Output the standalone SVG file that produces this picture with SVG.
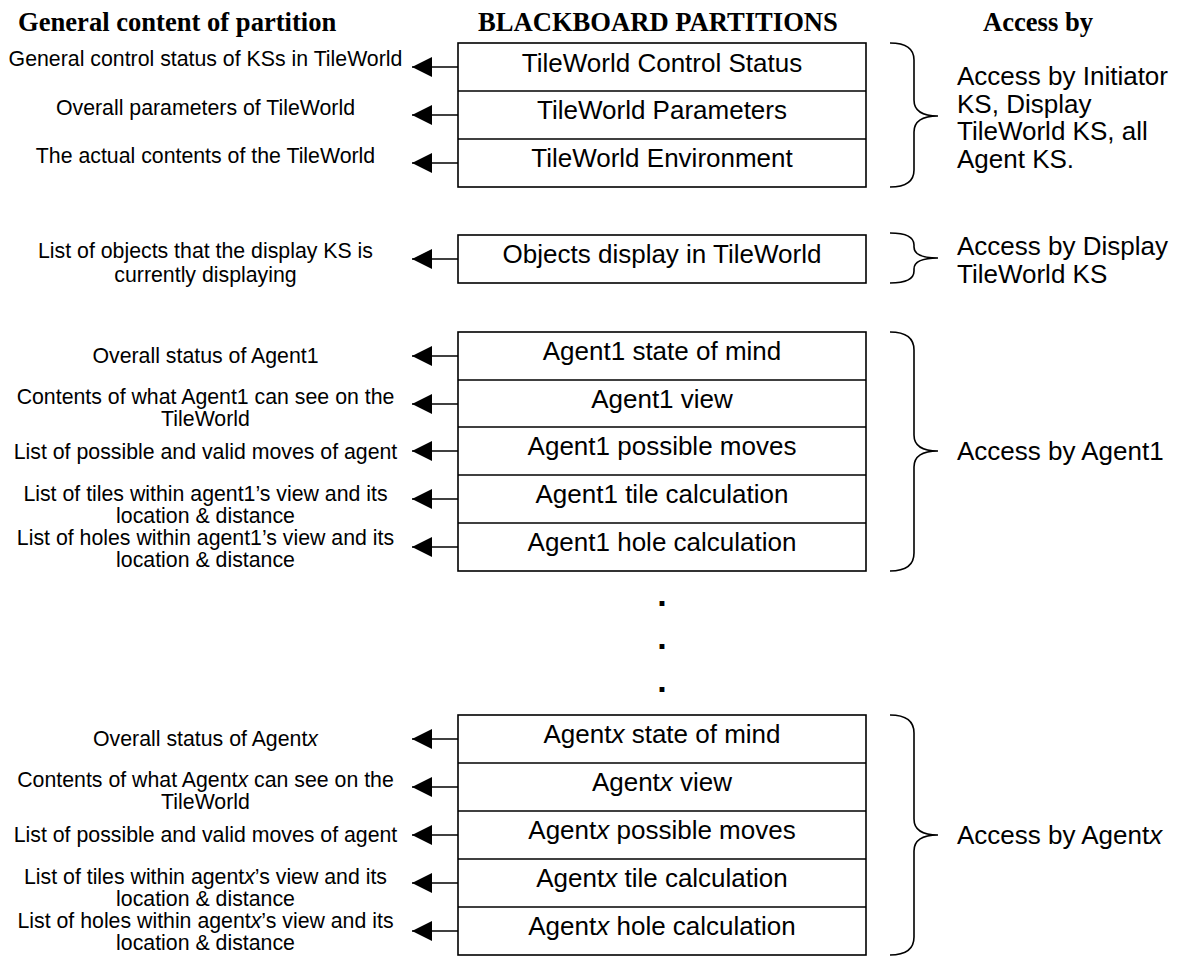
<svg xmlns="http://www.w3.org/2000/svg" width="1179" height="957" viewBox="0 0 1179 957">
<defs>
<marker id="ah" viewBox="0 0 20 20" refX="20" refY="10" markerWidth="20" markerHeight="20" markerUnits="userSpaceOnUse" orient="auto">
<path d="M0,0 L20,10 L0,20 z" fill="#000"/>
</marker>
<style>
.hd{font-family:"Liberation Serif","Times New Roman",serif;font-weight:bold;font-size:26.6px;fill:#000}
.lt{font-family:"Liberation Sans",Arial,sans-serif;font-size:21.3px;fill:#000;text-anchor:middle}
.bt{font-family:"Liberation Sans",Arial,sans-serif;font-size:26px;fill:#000;text-anchor:middle}
.rt{font-family:"Liberation Sans",Arial,sans-serif;font-size:26px;fill:#000}
.box{fill:#fff;stroke:#000;stroke-width:1.6}
.dv{stroke:#000;stroke-width:1.6}
.br{fill:none;stroke:#000;stroke-width:1.6}
.cn{stroke:#000;stroke-width:1.6;marker-end:url(#ah)}
.dot{font-family:"Liberation Sans",Arial,sans-serif;font-weight:bold;font-size:34px;fill:#000;text-anchor:middle}
</style>
</defs>
<rect width="1179" height="957" fill="#fff"/>

<g id="headers">
<text class="hd" x="18" y="31">General content of partition</text>
<text class="hd" x="478" y="31">BLACKBOARD PARTITIONS</text>
<text class="hd" x="983" y="31">Access by</text>
</g>

<g id="tileworld-partitions">
<rect class="box" x="458" y="43" width="408" height="144"/>
<line class="dv" x1="458" y1="91" x2="866" y2="91"/>
<line class="dv" x1="458" y1="139" x2="866" y2="139"/>
<text class="bt" x="662" y="71.5">TileWorld Control Status</text>
<text class="bt" x="662" y="119">TileWorld Parameters</text>
<text class="bt" x="662" y="167">TileWorld Environment</text>
</g>

<g id="objects-partition">
<rect class="box" x="458" y="235" width="408" height="48"/>
<text class="bt" x="662" y="263">Objects display in TileWorld</text>
</g>

<g id="agent1-partitions">
<rect class="box" x="458" y="332" width="408" height="239"/>
<line class="dv" x1="458" y1="380" x2="866" y2="380"/>
<line class="dv" x1="458" y1="427" x2="866" y2="427"/>
<line class="dv" x1="458" y1="475" x2="866" y2="475"/>
<line class="dv" x1="458" y1="523" x2="866" y2="523"/>
<text class="bt" x="662" y="360">Agent1 state of mind</text>
<text class="bt" x="662" y="408">Agent1 view</text>
<text class="bt" x="662" y="455">Agent1 possible moves</text>
<text class="bt" x="662" y="503">Agent1 tile calculation</text>
<text class="bt" x="662" y="551">Agent1 hole calculation</text>
</g>

<g id="ellipsis">
<text class="dot" x="662" y="606">.</text>
<text class="dot" x="662" y="649">.</text>
<text class="dot" x="662" y="692">.</text>
</g>

<g id="agentx-partitions">
<rect class="box" x="458" y="715" width="408" height="240"/>
<line class="dv" x1="458" y1="763" x2="866" y2="763"/>
<line class="dv" x1="458" y1="811" x2="866" y2="811"/>
<line class="dv" x1="458" y1="859" x2="866" y2="859"/>
<line class="dv" x1="458" y1="907" x2="866" y2="907"/>
<text class="bt" x="662" y="743">Agent<tspan font-style="italic">x</tspan> state of mind</text>
<text class="bt" x="662" y="791">Agent<tspan font-style="italic">x</tspan> view</text>
<text class="bt" x="662" y="839">Agent<tspan font-style="italic">x</tspan> possible moves</text>
<text class="bt" x="662" y="887">Agent<tspan font-style="italic">x</tspan> tile calculation</text>
<text class="bt" x="662" y="935">Agent<tspan font-style="italic">x</tspan> hole calculation</text>
</g>

<g id="content-labels">
<text class="lt" x="205.5" y="66">General control status of KSs in TileWorld</text>
<text class="lt" x="205.5" y="115">Overall parameters of TileWorld</text>
<text class="lt" x="205.5" y="163">The actual contents of the TileWorld</text>
<text class="lt" x="205.5" y="258">List of objects that the display KS is</text>
<text class="lt" x="205.5" y="282">currently displaying</text>
<text class="lt" x="205.5" y="363">Overall status of Agent1</text>
<text class="lt" x="205.5" y="404">Contents of what Agent1 can see on the</text>
<text class="lt" x="205.5" y="426">TileWorld</text>
<text class="lt" x="205.5" y="459">List of possible and valid moves of agent</text>
<text class="lt" x="205.5" y="501">List of tiles within agent1’s view and its</text>
<text class="lt" x="205.5" y="523">location &amp; distance</text>
<text class="lt" x="205.5" y="545">List of holes within agent1’s view and its</text>
<text class="lt" x="205.5" y="567">location &amp; distance</text>
<text class="lt" x="205.5" y="746">Overall status of Agent<tspan font-style="italic">x</tspan></text>
<text class="lt" x="205.5" y="787">Contents of what Agent<tspan font-style="italic">x</tspan> can see on the</text>
<text class="lt" x="205.5" y="809">TileWorld</text>
<text class="lt" x="205.5" y="842">List of possible and valid moves of agent</text>
<text class="lt" x="205.5" y="884">List of tiles within agent<tspan font-style="italic">x</tspan>’s view and its</text>
<text class="lt" x="205.5" y="906">location &amp; distance</text>
<text class="lt" x="205.5" y="928">List of holes within agent<tspan font-style="italic">x</tspan>’s view and its</text>
<text class="lt" x="205.5" y="950">location &amp; distance</text>
</g>

<g id="access-labels">
<path class="br" d="M890 43 C906 43 914 48 914 60 L914 100 C914 110 922 116 938 116 C922 116 914 122 914 132 L914 170 C914 182 906 187 890 187"/>
<text class="rt" x="957" y="85">Access by Initiator</text>
<text class="rt" x="957" y="112.5">KS, Display</text>
<text class="rt" x="957" y="140">TileWorld KS, all</text>
<text class="rt" x="957" y="167.5">Agent KS.</text>
<path class="br" d="M890 233 C906 233 914 237 914 245 L914 247 C914 254 922 258 938 258 C922 258 914 262 914 269 L914 271 C914 279 906 283 890 283"/>
<text class="rt" x="957" y="255">Access by Display</text>
<text class="rt" x="957" y="283">TileWorld KS</text>
<path class="br" d="M890 332 C906 332 914 338 914 350 L914 435 C914 445 922 451 938 451 C922 451 914 457 914 467 L914 553 C914 565 906 571 890 571"/>
<text class="rt" x="957" y="460">Access by Agent1</text>
<path class="br" d="M890 715 C906 715 914 721 914 733 L914 819 C914 829 922 835 938 835 C922 835 914 841 914 851 L914 937 C914 949 906 955 890 955"/>
<text class="rt" x="957" y="844">Access by Agent<tspan font-style="italic">x</tspan></text>
</g>

<g id="connectors">
<line class="cn" x1="458" y1="67" x2="412" y2="67"/>
<line class="cn" x1="458" y1="115" x2="412" y2="115"/>
<line class="cn" x1="458" y1="163" x2="412" y2="163"/>
<line class="cn" x1="458" y1="259" x2="412" y2="259"/>
<line class="cn" x1="458" y1="356" x2="412" y2="356"/>
<line class="cn" x1="458" y1="404" x2="412" y2="404"/>
<line class="cn" x1="458" y1="451" x2="412" y2="451"/>
<line class="cn" x1="458" y1="499" x2="412" y2="499"/>
<line class="cn" x1="458" y1="547" x2="412" y2="547"/>
<line class="cn" x1="458" y1="739" x2="412" y2="739"/>
<line class="cn" x1="458" y1="787" x2="412" y2="787"/>
<line class="cn" x1="458" y1="835" x2="412" y2="835"/>
<line class="cn" x1="458" y1="883" x2="412" y2="883"/>
<line class="cn" x1="458" y1="931" x2="412" y2="931"/>
</g>
</svg>
